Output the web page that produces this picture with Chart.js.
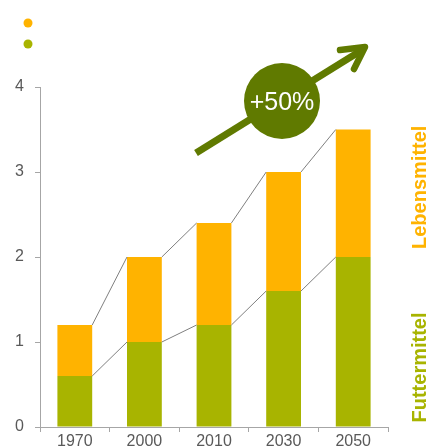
<!DOCTYPE html>
<html>
<head>
<meta charset="utf-8">
<script src="https://cdn.jsdelivr.net/npm/chart.js@4.4.1/dist/chart.umd.min.js"></script>
<style>
  html, body { margin: 0; padding: 0; background: #fff; overflow: hidden; }
  #wrap { width: 428px; height: 470px; }
</style>
</head>
<body>
<div id="wrap"><canvas id="chart" width="428" height="470"></canvas></div>
<script>
// Data
const years = ['1970', '2000', '2010', '2030', '2050']
const futtermittel = [0.6, 1.0, 1.2, 1.6, 2.0]
const lebensmittel = [0.6, 1.0, 1.2, 1.4, 1.5]   // stacked on top of futtermittel
const yTicks = [0, 1, 2, 3, 4]
const growthLabel = '+50%'

const GREEN = '#a8b400'
const ORANGE = '#ffb300'
const DARK = '#607a00'
const AXIS = '#a6a6a6'
const TEXT = '#595959'

// Extra drawing: connector lines, legend dots, arrow badge, side labels
const overlay = {
  id: 'overlay',
  afterDatasetsDraw(chart) {
    const ctx = chart.ctx
    const y = chart.scales.y

    // thin lines joining the bar tops
    ctx.save()
    ctx.strokeStyle = '#7f7f7f'
    ctx.lineWidth = 1
    chart.data.datasets.forEach((ds, di) => {
      const bars = chart.getDatasetMeta(di).data
      ctx.beginPath()
      for (let i = 0; i < bars.length - 1; i++) {
        const a = bars[i], b = bars[i + 1]
        ctx.moveTo(a.x + a.width / 2, a.y)
        ctx.lineTo(b.x - b.width / 2, b.y)
      }
      ctx.stroke()
    })
    ctx.restore()

    // legend dots (no text)
    ctx.save()
    const dots = [ORANGE, GREEN]
    dots.forEach((c, i) => {
      ctx.fillStyle = c
      ctx.beginPath()
      ctx.arc(28, 23 + i * 21, 4.5, 0, Math.PI * 2)
      ctx.fill()
    })
    ctx.restore()

    // growth arrow
    ctx.save()
    ctx.strokeStyle = DARK
    ctx.lineWidth = 7
    ctx.lineCap = 'butt'
    ctx.beginPath()
    ctx.moveTo(196, 153)
    ctx.lineTo(362, 50)
    ctx.stroke()
    ctx.lineCap = 'round'
    ctx.lineJoin = 'round'
    ctx.lineWidth = 6.5
    ctx.beginPath()
    ctx.moveTo(340, 50)
    ctx.lineTo(365, 47)
    ctx.lineTo(354, 69)
    ctx.stroke()

    // badge
    ctx.fillStyle = DARK
    ctx.beginPath()
    ctx.arc(282, 101, 38, 0, Math.PI * 2)
    ctx.fill()
    ctx.fillStyle = '#fff'
    ctx.font = '25px "Liberation Sans", Arial, sans-serif'
    ctx.textAlign = 'center'
    ctx.textBaseline = 'middle'
    ctx.fillText(growthLabel, 282, 103)
    ctx.restore()

    // rotated series labels on the right
    ctx.save()
    ctx.font = 'bold 20px "Liberation Sans", Arial, sans-serif'
    ctx.textAlign = 'center'
    ctx.textBaseline = 'middle'
    const sideLabels = [
      { text: chart.data.datasets[1].label, color: ORANGE, v: 2.82 },
      { text: chart.data.datasets[0].label, color: GREEN, v: 0.7 }
    ]
    sideLabels.forEach(l => {
      ctx.save()
      ctx.translate(420, y.getPixelForValue(l.v))
      ctx.rotate(-Math.PI / 2)
      ctx.fillStyle = l.color
      ctx.fillText(l.text, 0, 0)
      ctx.restore()
    })
    ctx.restore()
  }
}

const ctx = document.getElementById('chart')
new Chart(ctx.getContext('2d'), {
  type: 'bar',
  data: {
    labels: years,
    datasets: [
      {
        label: 'Futtermittel',
        data: futtermittel,
        backgroundColor: GREEN,
        borderWidth: 0,
        barPercentage: 0.5,
        categoryPercentage: 1
      },
      {
        label: 'Lebensmittel',
        data: lebensmittel,
        backgroundColor: ORANGE,
        borderWidth: 0,
        barPercentage: 0.5,
        categoryPercentage: 1
      }
    ]
  },
  options: {
    responsive: false,
    animation: false,
    layout: { padding: { left: 0, right: 40, top: 87, bottom: 0 } },
    plugins: {
      legend: { display: false },
      title: { display: false },
      tooltip: { enabled: false }
    },
    scales: {
      x: {
        stacked: true,
        border: { color: AXIS },
        grid: { drawOnChartArea: false, drawTicks: true, tickLength: 5, color: AXIS, offset: true },
        ticks: {
          color: TEXT,
          padding: 0,
          maxRotation: 0,
          font: { family: '"Liberation Sans", Arial, sans-serif', size: 16 }
        },
        afterFit: s => { s.height = 43 }
      },
      y: {
        stacked: true,
        min: yTicks[0],
        max: yTicks[yTicks.length - 1],
        border: { color: AXIS },
        grid: { drawOnChartArea: false, drawTicks: true, tickLength: 5, color: AXIS },
        ticks: {
          stepSize: 1,
          color: TEXT,
          padding: 11,
          font: { family: '"Liberation Sans", Arial, sans-serif', size: 16 }
        },
        afterFit: s => { s.width = 40 }
      }
    }
  },
  plugins: [overlay]
})
</script>
</body>
</html>
